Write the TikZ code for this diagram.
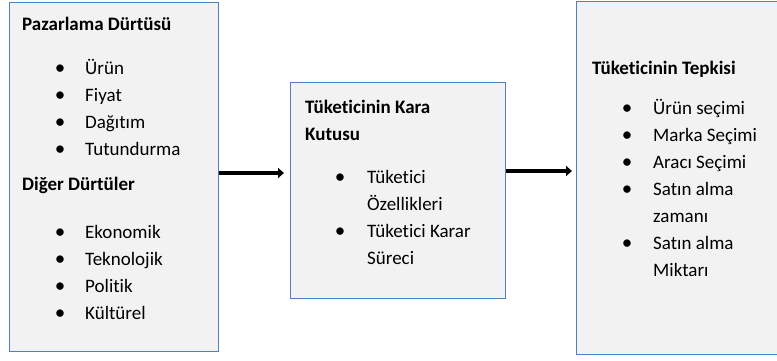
\documentclass[tikz,border=0pt]{standalone}
\usepackage{fontspec}
\setmainfont{Carlito}[RawFeature={-liga;-clig;-dlig;-calt;-rlig}]
\usetikzlibrary{arrows.meta}
\definecolor{boxfill}{HTML}{F2F2F2}
\definecolor{boxline}{HTML}{4F81BD}
\begin{document}
\begin{tikzpicture}[x=1pt,y=-1pt,
  box/.style={draw=boxline, fill=boxfill, line width=1.3pt, inner sep=0pt, anchor=north west},
  txt/.style={anchor=base west, inner sep=0pt, font=\fontsize{19}{23}\selectfont},
  head/.style={anchor=base west, inner sep=0pt, font=\fontsize{19}{23}\selectfont\bfseries},
  bul/.style={anchor=base, inner sep=0pt, font=\fontsize{21}{23}\selectfont},
  arr/.style={line width=4pt, -{Triangle[length=6pt,width=10pt]}}]
\useasboundingbox (0,0) rectangle (777,360);
\clip (0,0) rectangle (777,360);
\fill[white] (0,0) rectangle (777,360);
% boxes
\node[box, minimum width=209pt, minimum height=349pt] (left) at (9,2) {};
\node[box, minimum width=215pt, minimum height=216pt] (mid) at (290,82) {};
\node[box, minimum width=240pt, minimum height=353pt] (right) at (576,1) {};
% arrows
\coordinate (ya) at (0,173);
\coordinate (yb) at (0,171);
\draw[arr, shorten >=6pt] (left.east |- ya) -- (mid.west |- ya);
\draw[arr, shorten >=4pt] (mid.east |- yb) -- (right.west |- yb);
% left box text
\node[head] (lh1) at (22,30) {Pazarlama Dürtüsü};
\node[bul] (lb1) at (60,74) {•}; \node[txt] (lt1) at (85,74) {Ürün};
\node[bul] (lb2) at (60,101) {•}; \node[txt] (lt2) at (85,101) {Fiyat};
\node[bul] (lb3) at (60,128) {•}; \node[txt] (lt3) at (85,128) {Dağıtım};
\node[bul] (lb4) at (60,155) {•}; \node[txt] (lt4) at (85,155) {Tutundurma};
\node[head] (lh2) at (22,190) {Diğer Dürtüler};
\node[bul] (lb5) at (60,238) {•}; \node[txt] (lt5) at (85,238) {Ekonomik};
\node[bul] (lb6) at (60,265) {•}; \node[txt] (lt6) at (85,265) {Teknolojik};
\node[bul] (lb7) at (60,292) {•}; \node[txt] (lt7) at (85,292) {Politik};
\node[bul] (lb8) at (60,319) {•}; \node[txt] (lt8) at (85,319) {Kültürel};
% middle box text
\node[head] (mh1) at (305,113) {Tüketicinin Kara};
\node[head] (mh2) at (305,140) {Kutusu};
\node[bul] (mb1) at (340,183) {•}; \node[txt] (mt1) at (367,183) {Tüketici};
\node[txt] (mt2) at (367,210) {Özellikleri};
\node[bul] (mb2) at (340,237) {•}; \node[txt] (mt3) at (367,237) {Tüketici Karar};
\node[txt] (mt4) at (367,264) {Süreci};
% right box text
\node[head] (rh1) at (592,74) {Tüketicinin Tepkisi};
\node[bul] (rb1) at (627,114) {•}; \node[txt] (rt1) at (653,114) {Ürün seçimi};
\node[bul] (rb2) at (627,141) {•}; \node[txt] (rt2) at (653,141) {Marka Seçimi};
\node[bul] (rb3) at (627,168) {•}; \node[txt] (rt3) at (653,168) {Aracı Seçimi};
\node[bul] (rb4) at (627,195) {•}; \node[txt] (rt4) at (653,195) {Satın alma};
\node[txt] (rt5) at (653,222) {zamanı};
\node[bul] (rb5) at (627,249) {•}; \node[txt] (rt6) at (653,249) {Satın alma};
\node[txt] (rt7) at (653,276) {Miktarı};
\end{tikzpicture}
\end{document}
